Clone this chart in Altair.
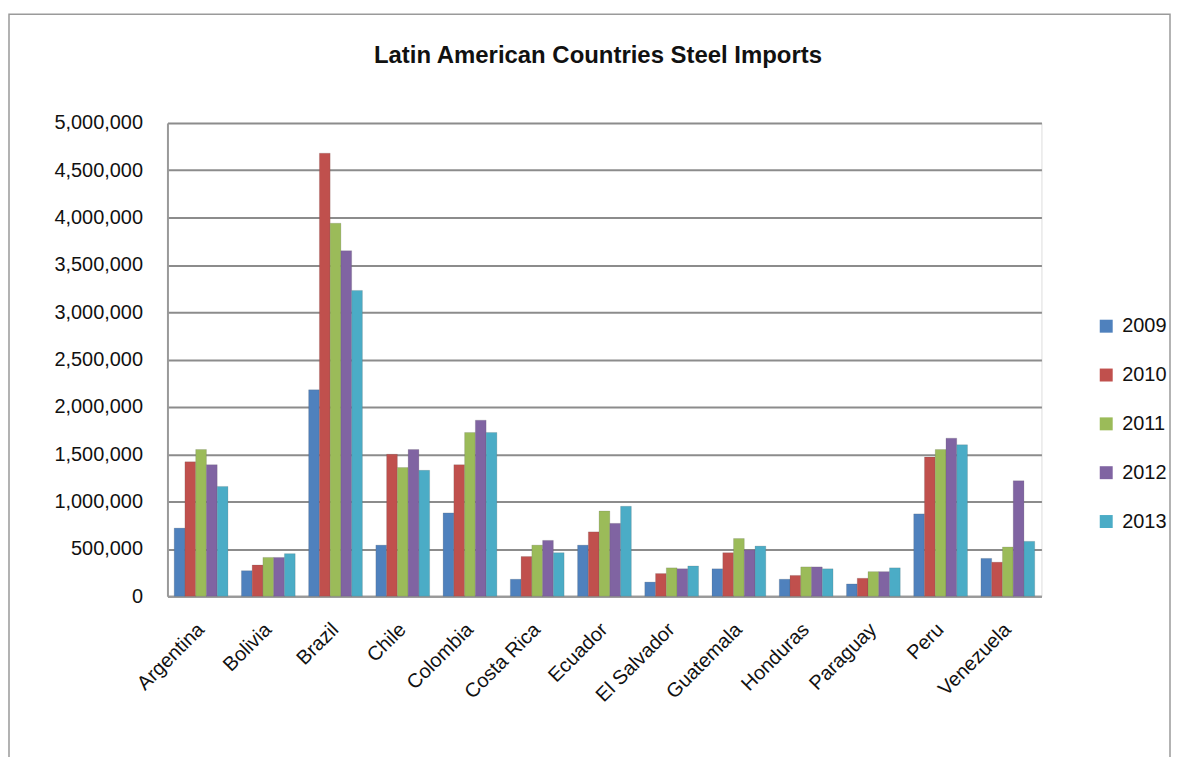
import altair as alt
import pandas as pd

countries = ["Argentina", "Bolivia", "Brazil", "Chile", "Colombia", "Costa Rica",
             "Ecuador", "El Salvador", "Guatemala", "Honduras", "Paraguay", "Peru", "Venezuela"]
years = ["2009", "2010", "2011", "2012", "2013"]
v2009 = [720000, 270000, 2180000, 540000, 880000, 180000, 540000, 150000, 290000, 180000, 130000, 870000, 400000]
v2010 = [1420000, 330000, 4680000, 1500000, 1390000, 420000, 680000, 240000, 460000, 220000, 190000, 1470000, 360000]
v2011 = [1550000, 410000, 3940000, 1360000, 1730000, 540000, 900000, 300000, 610000, 310000, 260000, 1550000, 520000]
v2012 = [1390000, 410000, 3650000, 1550000, 1860000, 590000, 770000, 290000, 490000, 310000, 260000, 1670000, 1220000]
v2013 = [1160000, 450000, 3230000, 1330000, 1730000, 460000, 950000, 320000, 530000, 290000, 300000, 1600000, 580000]
colors = ["#4F81BD", "#C0504D", "#9BBB59", "#8064A2", "#4BACC6"]
y_ticks = list(range(0, 5000001, 500000))
title_text = "Latin American Countries Steel Imports"

rows = []
for yr, vals in zip(years, [v2009, v2010, v2011, v2012, v2013]):
    for c, v in zip(countries, vals):
        rows.append({"Country": c, "Year": yr, "Imports": v})
df = pd.DataFrame(rows)

FONT = "Liberation Sans, Arial, sans-serif"

bars = alt.Chart(df).mark_bar(stroke="#555555", strokeWidth=0.3, strokeOpacity=0.6).encode(
    x=alt.X("Country:N", sort=countries, title=None,
            scale=alt.Scale(paddingInner=0.2, paddingOuter=0.1),
            axis=alt.Axis(labelAngle=-45, labelAlign="right", labelBaseline="middle",
                          labelFontSize=20, labelColor="#111111", labelFont=FONT,
                          ticks=False, domainColor="#999999", domainWidth=2,
                          labelPadding=30)),
    xOffset=alt.XOffset("Year:N", sort=years),
    y=alt.Y("Imports:Q", title=None,
            scale=alt.Scale(domain=[0, 5000000], nice=False),
            axis=alt.Axis(values=y_ticks, format=",d", labelFontSize=20, labelColor="#111111",
                          labelFont=FONT, ticks=False, gridColor="#8c8c8c", gridWidth=2,
                          domainColor="#999999", domainWidth=2, labelPadding=25)),
    color=alt.Color("Year:N", sort=years,
                    scale=alt.Scale(domain=years, range=colors),
                    legend=alt.Legend(title=None, orient="none", legendX=932, legendY=194,
                                      symbolType="square", symbolSize=169, symbolStrokeWidth=0,
                                      labelFontSize=20, labelFont=FONT, labelColor="#111111",
                                      rowPadding=29, labelOffset=6)),
)

one = pd.DataFrame({"t": [title_text]})

frame = alt.Chart(one).mark_rect(
    fill=None, stroke="#9a9a9a", strokeWidth=1.5, clip=False
).encode(x=alt.value(-159), x2=alt.value(1006), y=alt.value(-109), y2=alt.value(162 + 475))

title = alt.Chart(one).mark_text(
    font=FONT, fontSize=24, fontWeight="bold", color="#111111",
    align="center", baseline="middle", clip=False
).encode(text="t:N", x=alt.value(432), y=alt.value(-67))

chart = alt.layer(frame, bars, title).properties(
    width=877, height=475,
    autosize=alt.AutoSizeParams(type="none"),
    padding={"left": 160, "top": 114, "right": 130, "bottom": 160},
).configure_view(stroke=None).configure(background="white")

chart.save("out.html", embed_options={"renderer": "svg", "actions": False})
